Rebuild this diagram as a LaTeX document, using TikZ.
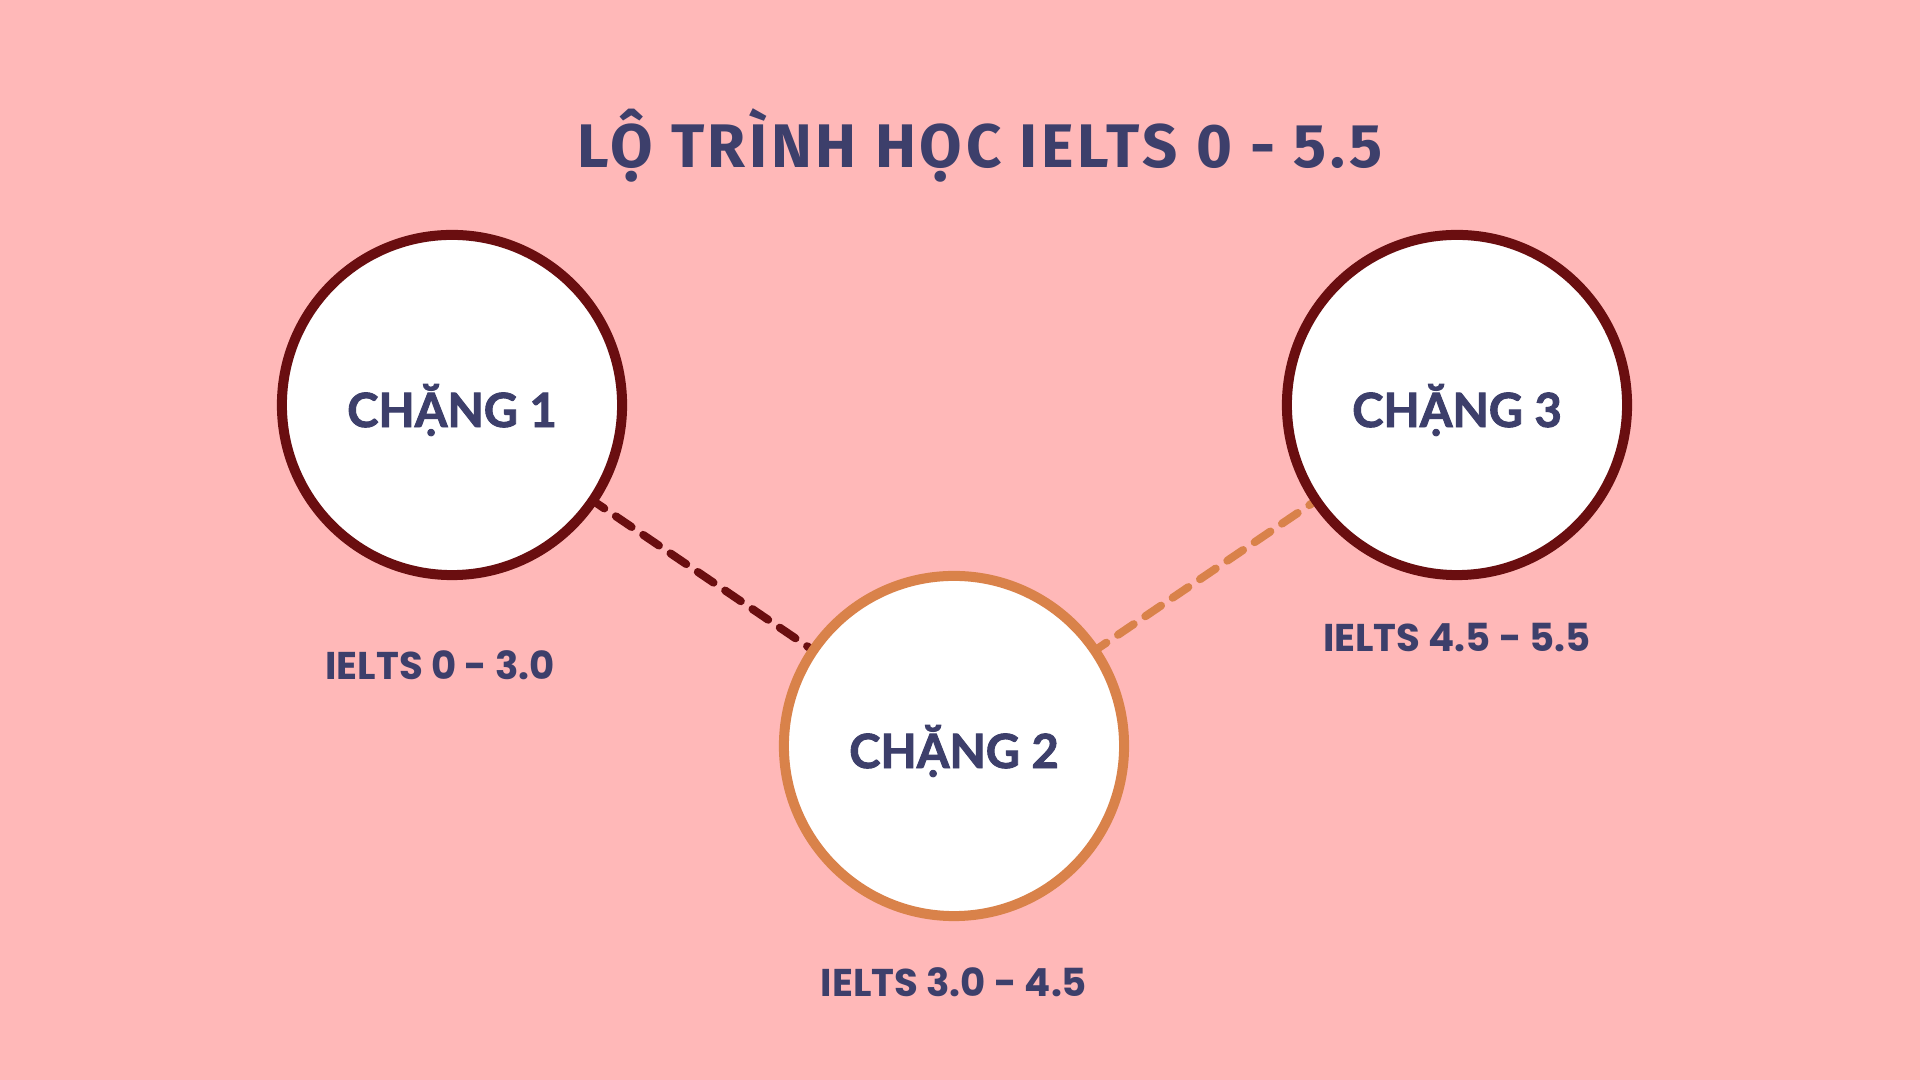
\documentclass[tikz,border=0pt]{standalone}
\usepackage{fontspec}
\newfontfamily\titlefont[LetterSpace=6]{Fira Sans}
\newfontfamily\stagefont[BoldFeatures={FakeBold=2}]{Lato}
\newfontfamily\labfont{Poppins}
\definecolor{bgpink}{HTML}{FFB8B8}
\definecolor{navy}{HTML}{3D3F6B}
\definecolor{darkred}{HTML}{6A0E10}
\definecolor{orng}{HTML}{D9824A}
\newcommand{\stagetext}[1]{\raisebox{-0.22cm}[0pt][0pt]{#1}}
\tikzset{
  stage/.style={circle, fill=white, line width=0.1cm, minimum size=3.4cm, inner sep=0pt,
    text=navy, font=\stagefont\bfseries\fontsize{13.4pt}{16pt}\selectfont},
  lab/.style={text=navy, font=\labfont\bfseries\fontsize{11pt}{13pt}\selectfont, inner sep=0pt},
  link/.style={line width=0.08cm, line cap=round, dash pattern=on 0.19cm off 0.14cm}
}
\begin{document}
\begin{tikzpicture}[x=0.01cm, y=-0.01cm]
\fill[bgpink] (0,0) rectangle (1920,1080);
\useasboundingbox (0,0) rectangle (1920,1080);
\node[text=navy, font=\titlefont\bfseries\fontsize{17.5pt}{20pt}\selectfont, inner sep=0pt] (title) at (980,145) {LỘ TRÌNH HỌC IELTS 0 - 5.5};
\coordinate (c1) at (452,405);
\coordinate (c2) at (954,746);
\coordinate (c3) at (1457,405);
\draw[link, darkred] (c1) -- (c2);
\draw[link, orng] (c2) -- (c3);
\node[stage, draw=darkred] (s1) at (c1) {\stagetext{CHẶNG 1}};
\node[stage, draw=orng] (s2) at (c2) {\stagetext{CHẶNG 2}};
\node[stage, draw=darkred] (s3) at (c3) {\stagetext{CHẶNG 3}};
\node[lab] (l1) at (440,665) {IELTS 0 - 3.0};
\node[lab] (l2) at (954,982) {IELTS 3.0 - 4.5};
\node[lab] (l3) at (1457,638) {IELTS 4.5 - 5.5};
\end{tikzpicture}
\end{document}
